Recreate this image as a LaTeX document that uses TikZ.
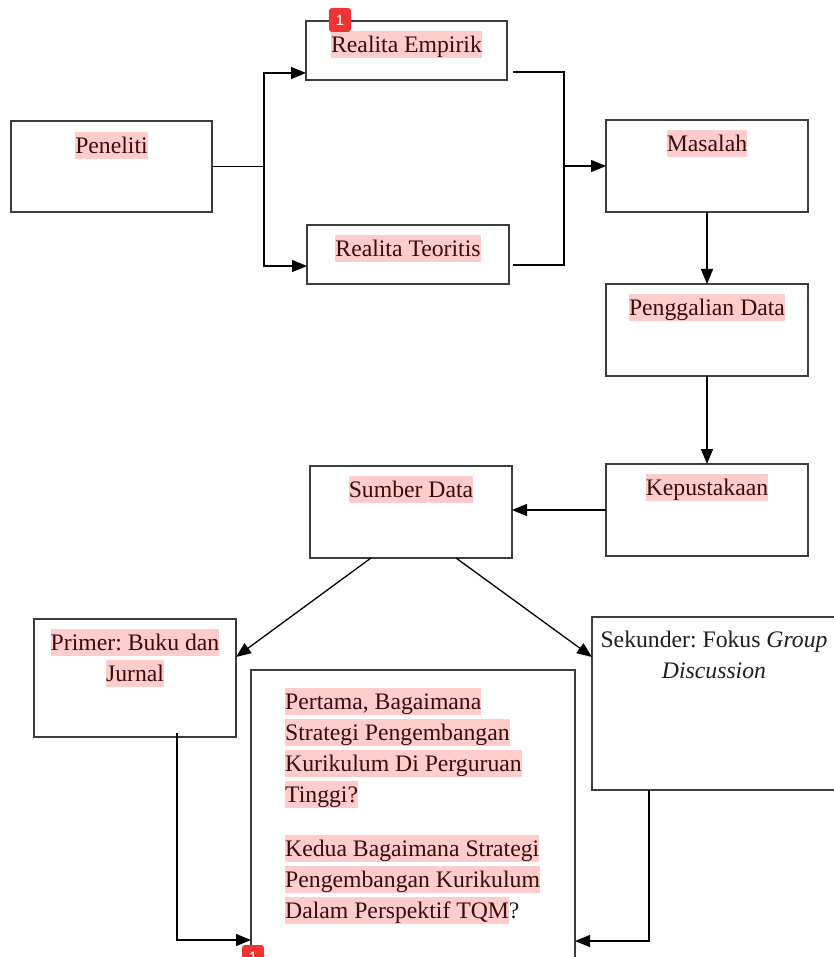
\documentclass[tikz,border=0pt]{standalone}
\usepackage{fontspec}
\setmainfont{Liberation Serif}
\newfontfamily\badgefont{Liberation Sans}
\usetikzlibrary{arrows.meta,calc}
\definecolor{hlpink}{HTML}{FFCCCC}
\definecolor{hltext}{HTML}{3A0C0C}
\definecolor{boxline}{HTML}{3C3C3C}
\definecolor{badgered}{HTML}{EE3333}
\definecolor{plaintext}{HTML}{1E1E1E}
\newcommand\hl[1]{{\setlength\fboxsep{0pt}\colorbox{hlpink}{\rule[-6pt]{0pt}{27pt}\color{hltext}#1}}}
\newcommand\hs{\rule[-6pt]{0pt}{27pt}}
\frenchspacing
\begin{document}
\begin{tikzpicture}[x=1pt,y=-1pt,
 box/.style={draw=boxline,line width=1.3pt,anchor=north west,inner sep=0pt,outer sep=0pt},
 lbl/.style={anchor=north,inner sep=0pt,font=\frenchspacing\fontsize{23.7}{31}\selectfont,align=center,text=plaintext},
 conn/.style={draw=black,line width=1.3pt},
 arr/.style={conn,-{Triangle[length=15pt,width=12pt]}},
 badge/.style={fill=badgered,rounded corners=3pt,minimum width=22pt,minimum height=24pt,inner sep=0pt,text=white,font=\badgefont\fontsize{15}{15}\selectfont}]
\fill[white] (0,0) rectangle (833,957);
\useasboundingbox (0,0) rectangle (833,957);
% boxes
\node[box,minimum width=201pt,minimum height=91pt] (pen) at (11,121) {};
\node[box,minimum width=201pt,minimum height=59pt] (emp) at (306,21) {};
\node[box,minimum width=202pt,minimum height=59pt] (teo) at (307,225) {};
\node[box,minimum width=202pt,minimum height=92pt] (mas) at (606,120) {};
\node[box,minimum width=202pt,minimum height=92pt] (pg) at (606,284) {};
\node[box,minimum width=202pt,minimum height=92pt] (kep) at (606,464) {};
\node[box,minimum width=202pt,minimum height=92pt] (sd) at (310,466) {};
\node[box,minimum width=202pt,minimum height=118pt] (pri) at (34,619) {};
\node[box,minimum width=324pt,minimum height=340pt] (big) at (251,670) {};
\node[box,minimum width=244pt,minimum height=173pt] (sek) at (592,617) {};
% labels
\node[lbl] (tpen) at ([yshift=-11pt]pen.north) {\hl{Peneliti}};
\node[lbl] (temp) at ([yshift=-10pt]emp.north) {\hl{Realita Empirik}};
\node[lbl] (tteo) at ([yshift=-10pt]teo.north) {\hl{Realita Teoritis}};
\node[lbl] (tmas) at ([yshift=-10pt]mas.north) {\hl{Masalah}};
\node[lbl] (tpg) at ([yshift=-10pt]pg.north) {\hl{Penggalian Data}};
\node[lbl] (tkep) at ([yshift=-10pt]kep.north) {\hl{Kepustakaan}};
\node[lbl] (tsd) at ([yshift=-10pt]sd.north) {\hl{Sumber Data}};
\node[lbl] (tpri) at ([yshift=-10pt]pri.north) {\hl{Primer: Buku dan}\\\hl{Jurnal}};
\node[lbl] (tsek) at ([yshift=-9pt]sek.north) {\hs Sekunder: Fokus \textit{Group}\\\hs\textit{Discussion}};
\node[lbl,anchor=north west,align=left] (tbig) at (285,688) {\hl{Pertama, Bagaimana}\\\hl{Strategi Pengembangan}\\\hl{Kurikulum Di Perguruan}\\\hl{Tinggi?}\\[23pt]\hl{Kedua Bagaimana Strategi}\\\hl{Pengembangan Kurikulum}\\\hl{Dalam Perspektif TQM}?};
% connectors
\coordinate (j1) at (264,166.5);
\coordinate (j2) at (564,166);
\draw[conn] (pen.east) -- (j1);
\draw[arr] (j1) |- ([yshift=7pt]emp.south west);
\draw[arr] (j1) |- ([yshift=18pt]teo.south west);
\draw[conn] ([xshift=6pt,yshift=8pt]emp.south east) -| (j2);
\draw[conn] ([xshift=4pt,yshift=19pt]teo.south east) -| (j2);
\draw[arr] (j2) -- (mas.west);
\draw[arr] (mas.south) -- (pg.north);
\draw[arr] (pg.south) -- (kep.north);
\draw[arr] (kep.west) -- (kep.west -| sd.east);
\draw[arr] ([xshift=-40pt]sd.south) -- ([yshift=-38pt]pri.north east);
\draw[arr] ([xshift=45pt]sd.south) -- ([yshift=-40pt]sek.north west);
\draw[arr] ([xshift=42pt,yshift=4pt]pri.south) |- ([yshift=-270pt]big.north west);
\draw[arr] ([xshift=57pt]sek.south west) |- ([yshift=-271pt]big.north east);
% badges
\node[badge] (b1) at (340,20) {1};
\node[badge] (b2) at (253,957) {1};
\end{tikzpicture}
\end{document}
